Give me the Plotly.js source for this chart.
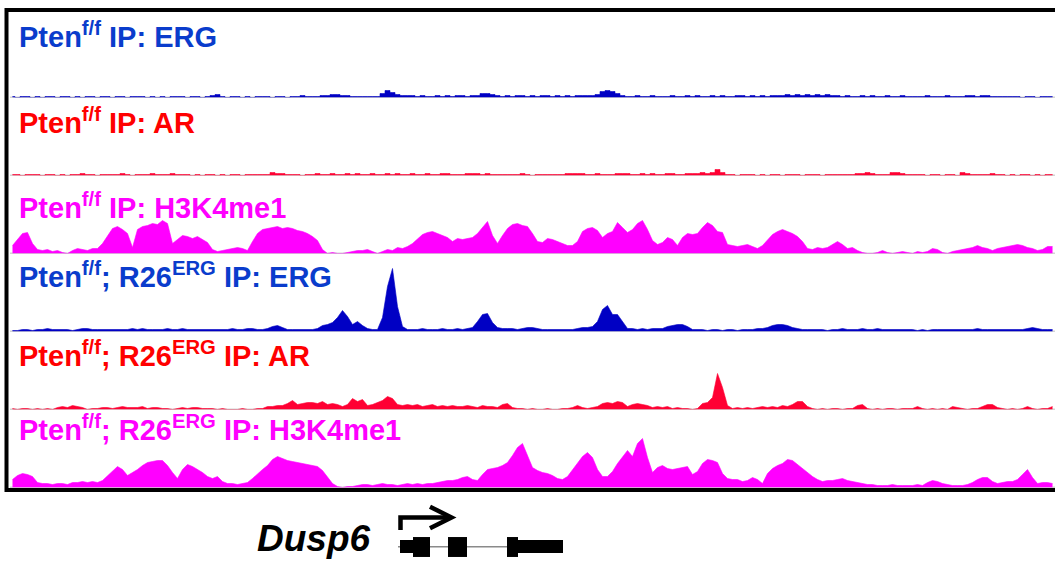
<!DOCTYPE html>
<html><head><meta charset="utf-8">
<script src="https://cdn.plot.ly/plotly-3.0.1.min.js"></script>
<style>html,body{margin:0;padding:0;background:#fff;} #chart{width:1055px;height:561px;}</style>
</head><body><div id="chart"></div>
<script>
// ---- Track labels ----
const trackLabels = [
  'Pten<sup>f/f</sup> IP: ERG',
  'Pten<sup>f/f</sup> IP: AR',
  'Pten<sup>f/f</sup> IP: H3K4me1',
  'Pten<sup>f/f</sup>; R26<sup>ERG</sup> IP: ERG',
  'Pten<sup>f/f</sup>; R26<sup>ERG</sup> IP: AR',
  'Pten<sup>f/f</sup>; R26<sup>ERG</sup> IP: H3K4me1'
];
const geneName = 'Dusp6';

// ---- Coverage values per genomic bin (209 bins across the window) ----
const ergPten = [
 1,0,1,1,0,1,0,1,1,0, 1,1,0,1,0,1,1,0,1,1, 0,1,1,0,1,1,1,0,1,0, 1,0,1,1,1,0,1,1,0,1,
 2,3,1,0,1,1,0,1,0,1, 1,1,0,1,1,0,1,1,2,1, 1,1,2,2,3,3,2,2,1,1, 1,1,1,1,4,7,5,3,2,2,
 2,1,2,1,1,2,1,2,1,2, 2,1,2,2,4,4,3,2,1,2, 1,2,2,1,2,1,2,2,1,2, 1,2,1,2,2,2,2,3,6,7,
 6,4,2,1,1,2,1,1,2,1, 1,1,2,1,1,2,1,2,1,1, 2,1,2,1,1,2,2,1,2,1, 2,1,2,2,2,3,2,3,2,3,
 2,3,2,3,2,2,1,2,1,1, 2,1,2,1,1,2,1,1,2,1, 1,1,1,2,1,1,1,2,1,1, 1,2,2,1,2,2,1,1,1,1,
 1,1,0,1,1,0,1,1,1
];
const arPten = [
 1,1,0,1,1,1,0,1,1,0, 1,0,1,1,2,1,1,0,1,1, 1,1,2,1,0,1,1,1,2,1, 1,1,2,1,1,1,0,1,0,1,
 1,0,1,0,1,1,0,1,1,1, 1,1,3,2,2,1,1,1,0,1, 1,2,1,1,2,1,1,2,1,2, 1,1,2,1,1,2,1,2,1,1,
 2,1,1,2,1,1,2,2,1,1, 1,2,2,2,1,2,1,1,1,1, 1,1,2,1,0,1,1,1,1,1, 1,2,2,2,2,1,1,2,1,1,
 1,2,2,2,1,1,2,1,2,1, 1,2,2,1,1,2,2,2,3,2, 3,6,3,1,1,0,1,1,1,0, 1,0,1,1,0,1,1,1,0,1,
 1,1,0,1,1,1,1,1,1,2, 2,3,2,1,1,1,3,3,2,1, 1,1,1,0,1,1,0,1,1,0, 3,2,1,1,1,1,2,1,1,0,
 1,0,1,1,0,1,0,1,1
];
const k4Pten = [
 8,14,20,21,10,4,3,4,2,3, 1,0,3,5,4,3,5,5,10,18, 25,27,24,20,6,24,27,28,30,29, 33,30,10,14,18,17,15,17,14,11,
 4,2,3,4,5,6,5,3,12,20, 24,25,26,27,25,26,25,23,22,20, 17,13,4,0,1,0,0,1,2,3, 3,4,2,0,2,4,3,6,5,7,
 10,15,19,21,22,20,18,16,12,15, 14,15,16,20,26,32,18,10,18,25, 29,30,28,27,20,12,11,15,14,12, 10,8,8,12,22,25,26,23,16,20,
 22,31,26,21,24,30,33,24,13,9, 11,16,14,8,16,20,19,20,26,31, 28,22,21,9,8,7,8,9,7,5, 8,14,19,22,24,22,20,17,12,5,
 4,6,5,6,9,12,9,5,6,3, 1,0,0,1,3,1,0,1,2,1, 0,2,1,2,5,4,1,0,2,3, 4,5,6,8,6,5,3,5,6,7,
 8,9,8,6,5,3,4,7,7
];
const ergR26 = [
 1,1,2,2,1,2,2,3,2,2, 2,2,1,2,3,3,2,2,2,2, 2,2,2,2,3,2,3,2,2,2, 2,3,2,2,3,2,2,2,2,2,
 2,2,2,2,3,2,2,3,3,2, 2,3,5,6,4,2,2,2,2,2, 2,3,6,7,9,14,21,15,7,10, 6,3,2,2,14,45,63,25,5,2,
 2,2,3,2,2,2,3,2,2,3, 2,3,4,10,17,18,9,4,3,3, 3,2,3,4,4,3,2,2,2,2, 2,2,2,3,4,4,5,10,22,26,
 17,17,10,3,3,2,3,2,3,3, 3,5,6,7,7,5,2,2,2,1, 2,2,1,2,2,1,2,2,2,3, 3,4,6,7,7,6,4,3,2,2,
 2,2,2,1,2,2,3,2,2,2, 3,2,2,3,2,2,2,2,2,2, 2,1,2,1,2,2,2,2,2,2, 2,2,2,3,2,2,2,2,2,2,
 2,2,2,3,4,3,2,2,2
];
const arR26 = [
 1,0,1,1,0,1,0,1,0,2, 3,2,4,3,2,0,1,1,2,2, 1,2,3,2,2,2,3,1,2,2, 1,1,0,1,2,1,2,2,1,1,
 1,0,1,0,0,0,1,0,0,1, 1,3,3,4,4,6,9,5,6,7, 7,6,8,5,6,5,3,5,11,8, 10,4,5,7,9,13,11,5,4,5,
 4,5,3,4,5,3,4,3,4,3, 3,4,3,2,4,3,3,2,5,6, 2,1,1,0,1,0,0,1,0,0, 1,1,2,4,2,1,2,3,6,7,
 6,8,7,3,5,6,5,4,2,3, 2,3,1,2,1,1,0,1,6,7, 12,36,22,4,1,2,1,2,1,2, 3,2,3,2,4,3,5,8,8,3,
 1,0,1,0,1,1,0,1,1,4, 5,1,0,1,0,1,1,0,1,1, 1,3,1,0,1,0,1,0,3,2, 1,0,1,1,3,5,5,2,1,0,
 1,0,1,3,1,0,1,1,3
];
const k4R26 = [
 8,12,14,13,11,5,4,4,3,4, 4,3,5,5,6,5,6,5,7,12, 16,21,18,12,15,18,22,25,26,27, 27,22,15,9,18,23,21,18,15,11,
 9,11,6,4,4,3,4,5,9,14, 18,22,28,31,29,27,26,25,24,23, 22,21,17,11,4,1,0,1,1,2, 3,3,2,3,4,3,3,2,3,4,
 3,4,3,4,4,5,6,7,7,8, 10,11,8,7,13,18,19,20,22,25, 32,40,44,31,20,17,15,14,12,9, 8,11,18,25,31,35,30,18,11,11,
 16,24,31,37,31,44,49,30,15,20, 22,19,18,19,20,21,13,16,24,28, 27,25,14,9,8,8,6,7,10,8, 4,14,19,22,24,28,27,23,19,15,
 11,8,6,7,7,8,9,7,6,5, 4,3,3,2,2,2,3,2,2,2, 2,3,2,5,7,6,4,3,2,2, 2,3,5,8,10,10,6,4,5,6,
 6,8,13,18,10,4,5,5,4
];

// ---- Gene model (in bin coordinates) ----
const geneStart = 77.1, geneEnd = 110.1, tss = 77.6;
const exonStart = [77.5, 80.1, 87.1, 98.9, 101.1];
const exonEnd   = [80.1, 83.5, 90.9, 101.1, 110.1];
const exonCoding = [false, true, true, true, false];

// ---- build ----
const tracks = [ergPten, arPten, k4Pten, ergR26, arR26, k4R26];
const fillColors = ['#0000c4', '#ff0033', '#ff00ff', '#0000c4', '#ff0033', '#ff00ff'];
const textColors = ['#0a3ccc', '#ff0000', '#ff00ff', '#0a3ccc', '#ff0000', '#ff00ff'];
const lineShapes = ['hvh', 'hvh', 'linear', 'linear', 'linear', 'linear'];
const pos = ergPten.map((_, i) => i);

const W = 1055, H = 561;
const baselines = [97.5, 175.5, 253.5, 331.5, 409.5, 487.5];
const trackH = 78;
const labelMid = [35, 121.5, 206, 275, 354.5, 428];

const data = [];
const layout = {
  width: W, height: H,
  margin: {l: 0, r: 0, t: 0, b: 0},
  paper_bgcolor: '#ffffff', plot_bgcolor: 'rgba(0,0,0,0)',
  showlegend: false,
  font: {family: 'Liberation Sans, Arial, sans-serif'},
  xaxis: {domain: [10 / W, 1], range: [-0.5, pos.length - 0.5], visible: false, fixedrange: true},
  shapes: [], annotations: []
};

tracks.forEach((vals, k) => {
  const yn = k === 0 ? 'y' : 'y' + (k + 1);
  const an = k === 0 ? 'yaxis' : 'yaxis' + (k + 1);
  const b = baselines[k];
  layout[an] = {domain: [(H - b) / H, (H - b + trackH) / H], range: [0, trackH], visible: false, fixedrange: true, anchor: 'x'};
  layout.shapes.push({type: 'line', xref: 'paper', yref: yn, x0: 10 / W, x1: 1, y0: 0, y1: 0,
    line: {color: '#a9a9a9', width: 1.5}, layer: 'below'});
  data.push({
    type: 'scatter', mode: 'lines', x: pos, y: vals, xaxis: 'x', yaxis: yn,
    fill: 'tozeroy', fillcolor: fillColors[k],
    line: {color: fillColors[k], width: 0.6, shape: lineShapes[k]}, hoverinfo: 'skip'
  });
  layout.annotations.push({
    xref: 'paper', yref: 'paper', x: 17 / W, y: (H - labelMid[k]) / H,
    xanchor: 'left', yanchor: 'middle', showarrow: false,
    text: '<b>' + trackLabels[k] + '</b>',
    font: {size: 29, color: textColors[k], family: 'Liberation Sans, Arial, sans-serif'}
  });
});

// gene axis
layout.yaxis7 = {domain: [0, 61 / H], range: [0, 1], visible: false, fixedrange: true, anchor: 'x'};
data.push({type: 'scatter', mode: 'lines', x: [geneStart, geneEnd], y: [0.234, 0.234], xaxis: 'x', yaxis: 'y7',
  line: {color: '#8a8a8a', width: 1.5}, hoverinfo: 'skip'});
exonStart.forEach((s, j) => {
  const thick = exonCoding[j];
  layout.shapes.push({type: 'rect', xref: 'x', yref: 'y7', x0: s, x1: exonEnd[j],
    y0: thick ? 0.066 : 0.131, y1: thick ? 0.393 : 0.344,
    fillcolor: '#000', line: {width: 0}});
});
const arrowEnd = tss + 10.2;
layout.shapes.push({type: 'path', xref: 'x', yref: 'y7',
  path: `M ${tss},0.508 L ${tss},0.713 L ${arrowEnd - 0.3},0.713`,
  line: {color: '#000', width: 4.5}});
layout.shapes.push({type: 'path', xref: 'x', yref: 'y7',
  path: `M ${arrowEnd - 4.3},0.89 L ${arrowEnd},0.713 L ${arrowEnd - 4.3},0.536`,
  line: {color: '#000', width: 4.5}});
layout.annotations.push({
  xref: 'paper', yref: 'paper', x: 255 / W, y: (H - 538) / H, xanchor: 'left', yanchor: 'middle',
  showarrow: false, text: '<b><i>' + geneName + '</i></b>',
  font: {size: 37, color: '#000', family: 'Liberation Sans, Arial, sans-serif'}
});

// frame
layout.shapes.push({type: 'rect', xref: 'paper', yref: 'paper', x0: 6.5 / W, x1: 1.02,
  y0: (H - 490) / H, y1: (H - 10) / H, line: {color: '#000', width: 4}, fillcolor: 'rgba(0,0,0,0)', layer: 'above'});

Plotly.newPlot('chart', data, layout, {displayModeBar: false, staticPlot: true});
</script>
</body></html>
